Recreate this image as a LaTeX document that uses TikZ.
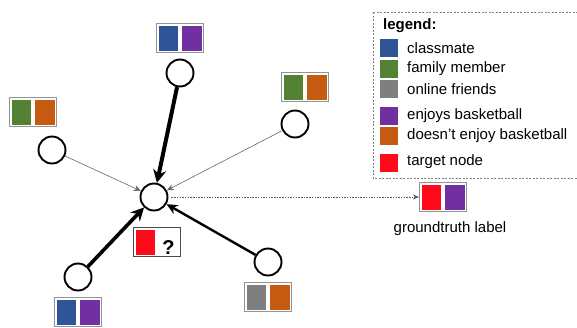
\documentclass[tikz,border=0pt]{standalone}
\usepackage{fontspec}
\setmainfont{Liberation Sans}
\usetikzlibrary{arrows.meta}
\definecolor{cblue}{HTML}{2F5597}
\definecolor{cgreen}{HTML}{548235}
\definecolor{cgray}{HTML}{7F7F7F}
\definecolor{cpurple}{HTML}{7030A0}
\definecolor{corange}{HTML}{C55A11}
\definecolor{cred}{HTML}{FF0A1A}
\tikzset{
  user/.style={circle,draw,line width=1.9pt,minimum size=27pt,inner sep=0pt},
  labbox/.style={draw=gray!85,line width=1.1pt,fill=white,inner sep=2pt},
  legsq/.style={minimum size=18pt,inner sep=0pt},
  legtext/.style={anchor=west,inner sep=0pt},
  thickarr/.style={line width=4pt,-{Stealth[length=13pt,width=13pt]}},
  midarr/.style={line width=2.4pt,-{Stealth[length=11pt,width=10pt]}},
  thinarr/.style={line width=0.6pt,gray!80!black,-{Stealth[length=7pt,width=6pt]}},
  dotarr/.style={line width=0.7pt,gray!70!black,dash pattern=on 1.5pt off 1.2pt,-{Stealth[length=6pt,width=5pt]}}
}
\newcommand{\pairbox}[2]{{\color{#1}\rule{19pt}{25pt}}\hspace{4pt}{\color{#2}\rule{20pt}{25pt}}}
\begin{document}
\begin{tikzpicture}[x=1pt,y=-1pt,font=\fontsize{15}{18}\selectfont]
      \useasboundingbox (0,0) rectangle (577,327);
      \draw
        (154,197) node[user] (c){}
        (180,73) node[user] (t){}
        (52,150) node[user] (l){}
        (295,124) node[user] (r){}
        (78,277) node[user] (bl){}
        (268,262) node[user] (br){};
      % label boxes
      \node[labbox] (t-lab) at (180,38) {\pairbox{cblue}{cpurple}};
      \node[labbox] (l-lab) at (33,112) {\pairbox{cgreen}{corange}};
      \node[labbox] (r-lab) at (305,87) {\pairbox{cgreen}{corange}};
      \node[labbox] (bl-lab) at (78,312) {\pairbox{cblue}{cpurple}};
      \node[labbox] (br-lab) at (268,297) {\pairbox{cgray}{corange}};
      \node[labbox,draw=gray!60!black,line width=0.8pt] (c-lab) at (157,242)
        {{\color{cred}\rule{19pt}{25pt}}\hspace{4pt}\makebox[20pt]{\fontsize{20}{20}\selectfont\bfseries ?}};
      \node[labbox] (gt) at (443,197) {\pairbox{cred}{cpurple}};
      \node (gt-text) at (450,229) {groundtruth label};
      \begin{scope}
        \draw[thickarr] (t) to (c);
        \draw[thickarr,line width=3.6pt] (bl) to (c);
        \draw[midarr] (br) to (c);
        \draw[thinarr] (l) to (c);
        \draw[thinarr] (r) to (c);
        \draw[dotarr] ([xshift=3pt]c.east) to (gt);
      \end{scope}
      % legend
      \draw[gray,line width=0.8pt,dash pattern=on 2pt off 1.5pt] (373,12) rectangle (579,178);
      \node[legtext,font=\fontsize{15}{18}\selectfont\bfseries] (leg) at (383,26) {legend:};
      \node[legsq,fill=cblue] (sq1) at (389,48) {};
      \node[legsq,fill=cgreen] (sq2) at (389,69) {};
      \node[legsq,fill=cgray] (sq3) at (389,89) {};
      \node[legsq,fill=cpurple] (sq4) at (389,116) {};
      \node[legsq,fill=corange] (sq5) at (389,136) {};
      \node[legsq,fill=cred] (sq6) at (389,163) {};
      \node[legtext] (tx1) at (407,48) {classmate};
      \node[legtext] (tx2) at (407,69) {family member};
      \node[legtext] (tx3) at (407,89) {online friends};
      \node[legtext] (tx4) at (407,116) {enjoys basketball};
      \node[legtext] (tx5) at (407,136) {doesn't enjoy basketball};
      \node[legtext] (tx6) at (407,162) {target node};
    \end{tikzpicture}
\end{document}
